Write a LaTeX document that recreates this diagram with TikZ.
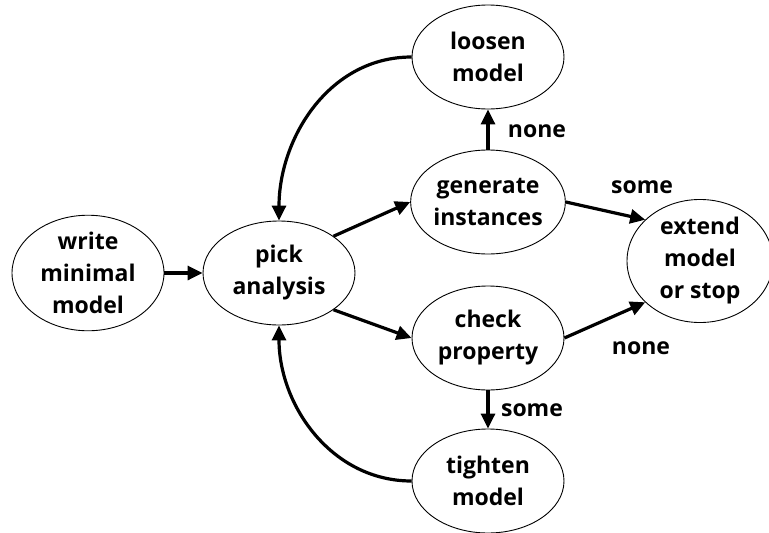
\documentclass[tikz,border=0pt]{standalone}
\usepackage{fontspec}
\setmainfont{Open Sans}
\usetikzlibrary{arrows.meta,shapes.geometric}
\begin{document}
\begin{tikzpicture}[x=1pt,y=-1pt,
  state/.style={draw,line width=0.9pt,ellipse,minimum width=152pt,minimum height=104pt,inner sep=0pt,align=center,
    font=\fontsize{23}{32}\selectfont\bfseries},
  lbl/.style={font=\fontsize{23}{32}\selectfont\bfseries,inner sep=0pt},
  conn/.style={line width=3.2pt,-{Triangle[length=15pt,width=14pt]}}]
\useasboundingbox (0,0) rectangle (769,533);
\node[state] (write) at (88,273) {write\\minimal\\model};
\node[state] (pick) at (279,273) {pick\\analysis};
\node[state] (loosen) at (488,57) {loosen\\model};
\node[state] (gen) at (488,202) {generate\\instances};
\node[state] (check) at (488,338) {check\\property};
\node[state] (tighten) at (488,481) {tighten\\model};
\node[state,minimum width=146pt,minimum height=96pt] (extend) at (700,261) {extend\\model\\or stop};
\draw[conn] (write) -- (pick);
\draw[conn] (pick.34) -- (gen.west);
\draw[conn] (pick.-34) -- (check.west);
\draw[conn] (gen) -- (loosen);
\draw[conn] (check) -- (tighten);
\draw[conn] (gen.east) -- (extend.143);
\draw[conn] (check.east) -- (extend.217);
\draw[conn] (loosen.west) to[out=180,in=90] (pick.north);
\draw[conn] (tighten.west) to[out=180,in=-90] (pick.south);
\node[lbl] (l1) at (537,131) {none};
\node[lbl] (l2) at (642,187) {some};
\node[lbl] (l3) at (641,348) {none};
\node[lbl] (l4) at (532,410) {some};
\end{tikzpicture}
\end{document}
